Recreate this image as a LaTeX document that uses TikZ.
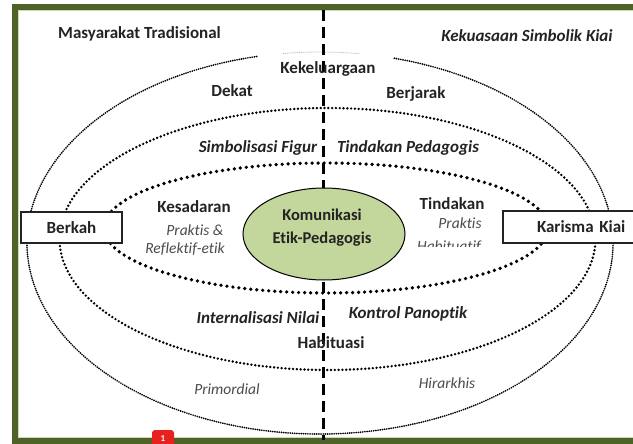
\documentclass[tikz,border=0pt]{standalone}
\usepackage{fontspec}
\setmainfont[Ligatures={NoCommon}]{Carlito}
\usetikzlibrary{shapes.geometric}
\definecolor{olivedk}{RGB}{79,98,40}
\definecolor{olivelt}{RGB}{205,218,180}
\definecolor{kgreen}{RGB}{195,214,155}
\definecolor{txtdk}{RGB}{35,35,35}
\definecolor{txtgr}{RGB}{75,75,75}
\tikzset{
  lbl/.style={text=txtdk,font=\fontsize{17}{20}\selectfont\bfseries,inner sep=0pt},
  lbli/.style={text=txtdk,font=\fontsize{17}{20}\selectfont\bfseries\itshape,inner sep=0pt},
  sml/.style={text=txtgr,font=\fontsize{15.5}{18}\selectfont\itshape,inner sep=0pt},
  outerdots/.style={line width=1.9pt,dash pattern=on 0pt off 2.2pt,line cap=round,black},
  middots/.style={line width=2.7pt,dash pattern=on 0pt off 3.8pt,line cap=round,black},
  innerdots/.style={line width=3.7pt,dash pattern=on 0pt off 6pt,line cap=round,black},
  sidebox/.style={draw=txtdk,line width=1.2pt,fill=white,inner sep=0pt,
    text=txtdk,font=\fontsize{17}{20}\selectfont\bfseries},
}
\begin{document}
\begin{tikzpicture}[x=1pt,y=-1pt]
\useasboundingbox (0,0) rectangle (633,444);
\clip (0,0) rectangle (633,444);
\fill[white] (0,0) rectangle (633,444);
% frame
\draw[olivedk,line width=6.5pt] (15,7) rectangle (648,441);
\draw[olivelt,line width=0.9pt] (18.6,10.6) rectangle (644,437.4);
% outer ellipse (open at top)
\draw[outerdots] (320,243) ++(257.5:293 and 191) arc[start angle=257.5,end angle=-75.5,x radius=293,y radius=191];
\draw[gray!60,line width=0.8pt,dash pattern=on 1pt off 1pt] (320,243) ++(262.7:293 and 191) arc[start angle=262.7,end angle=277.9,x radius=293,y radius=191];
% middle and inner ellipses
\draw[middots] (327.5,239) ellipse[x radius=268,y radius=131];
\draw[innerdots] (326,228) ellipse[x radius=222,y radius=65];
% vertical dashed divider
\coordinate (dtop) at (323,10);
\coordinate (dbot) at (323,440);
\draw[black,line width=3pt,dash pattern=on 11pt off 6pt] (dtop) -- (dbot);
% centre ellipse
\node[ellipse,draw=black,line width=1pt,fill=kgreen,minimum width=162pt,minimum height=92pt,inner sep=0pt] (kom) at (324,234) {};
\node[lbl,font=\fontsize{16.5}{23}\selectfont\bfseries,align=center] (komt) at (322,228) {Komunikasi\\Etik-Pedagogis};
% side boxes
\node[sidebox,minimum width=101pt,minimum height=31pt] (berkah) at (71.5,227.5) {Berkah};
\node[sidebox,minimum width=160pt,minimum height=32pt,text width=140pt] (karisma) at (583,227) {\hspace*{24pt}Karisma Kiai};
% labels
\node[lbl] (mt) at (139.5,34) {Masyarakat\ Tradisional};
\node[lbli] (ksk) at (527,36) {Kekuasaan Simbolik Kiai};
\node[lbl] (kek) at (328,69) {Kekeluargaan};
\node[lbl] (dekat) at (232,91) {Dekat};
\node[lbl] (berj) at (416,94) {Berjarak};
\node[lbli] (simb) at (258,148) {Simbolisasi Figur};
\node[lbli] (tped) at (408,148) {Tindakan Pedagogis};
\node[lbl] (kes) at (194,207) {Kesadaran};
\node[sml] (pr1) at (195,230) {Praktis \&};
\node[sml] (refl) at (185,249) {Reflektif-etik};
\node[lbl] (tind) at (452,204) {Tindakan};
\node[sml] (pr2) at (460,223) {Praktis};
\begin{scope}
\clip (400,230) rectangle (500,246.5);
\node[sml] (hab) at (449,247) {Habituatif};
\end{scope}
\node[lbli] (intn) at (258,318) {Internalisasi Nilai};
\node[lbli] (kont) at (408,314) {Kontrol Panoptik};
\node[lbl] (habs) at (331,343) {Habituasi};
\node[sml] (prim) at (227,389) {Primordial};
\node[sml] (hir) at (447,383) {Hirarkhis};
% red badge
\node[fill={rgb,255:red,232;green,32;blue,32},rounded corners=3pt,minimum width=22pt,minimum height=18pt,inner sep=0pt,text=white,font=\fontsize{9}{10}\selectfont\bfseries] (badge) at (163,439) {1};
\end{tikzpicture}
\end{document}
